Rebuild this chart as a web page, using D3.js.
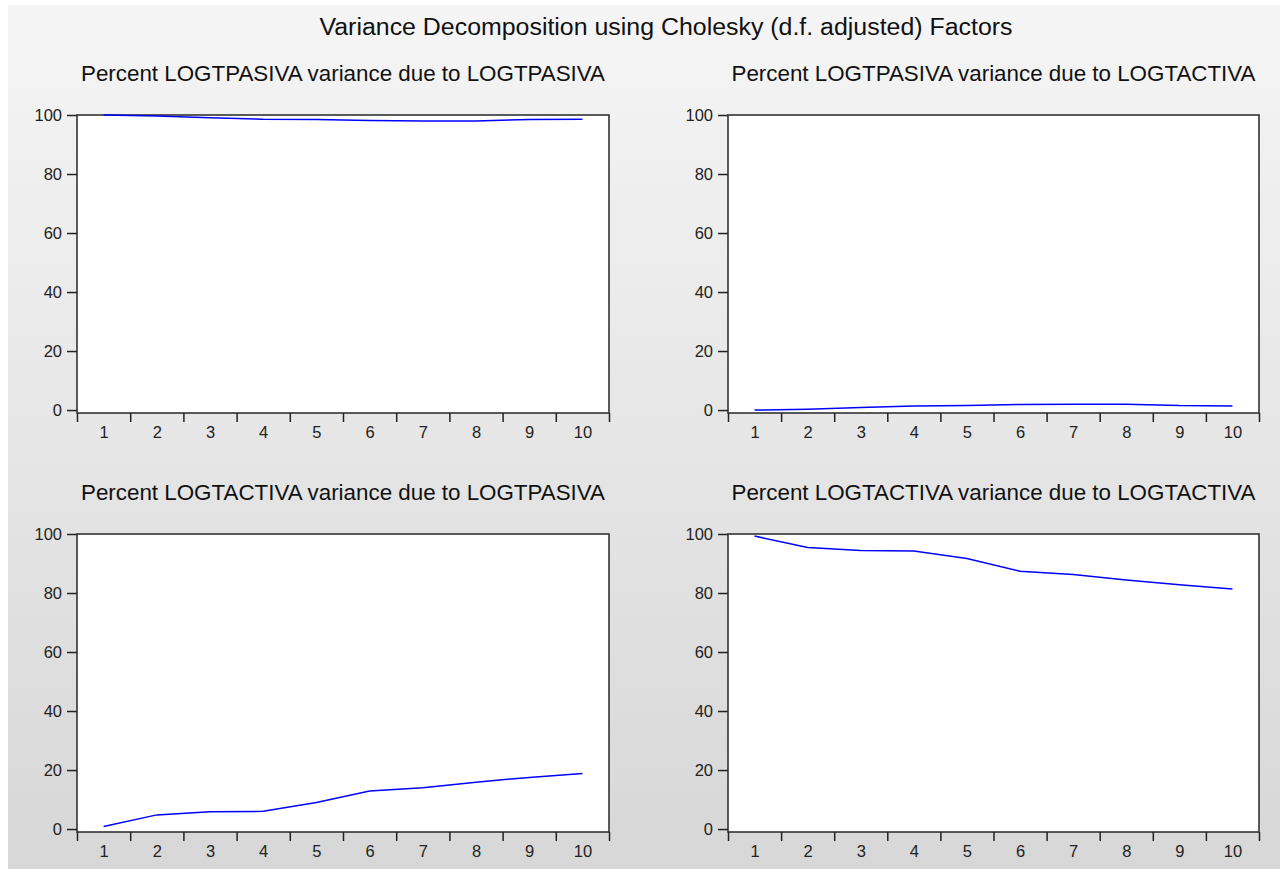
<!DOCTYPE html>
<html>
<head>
<meta charset="utf-8">
<script src="https://cdn.jsdelivr.net/npm/d3@7"></script>
<style>
  body { margin: 0; background: #fff; }
  svg { display: block; font-family: "Liberation Sans", Arial, sans-serif; }
</style>
</head>
<body>
<svg width="1283" height="869"></svg>
<script>
var periods = [1, 2, 3, 4, 5, 6, 7, 8, 9, 10];
var yTicks = [0, 20, 40, 60, 80, 100];

var pasivaByPasiva = [100, 99.7, 99.1, 98.6, 98.5, 98.1, 98.0, 98.0, 98.5, 98.6];
var pasivaByActiva = [0, 0.3, 0.9, 1.4, 1.5, 1.9, 2.0, 2.0, 1.5, 1.4];
var activaByPasiva = [0.9, 4.8, 5.9, 6.0, 9.0, 12.9, 14.0, 15.9, 17.5, 18.8];
var activaByActiva = [99.3, 95.4, 94.4, 94.2, 91.7, 87.4, 86.3, 84.4, 82.8, 81.4];

var mainTitle = 'Variance Decomposition using Cholesky (d.f. adjusted) Factors';
var panelTitles = [
  'Percent LOGTPASIVA variance due to LOGTPASIVA',
  'Percent LOGTPASIVA variance due to LOGTACTIVA',
  'Percent LOGTACTIVA variance due to LOGTPASIVA',
  'Percent LOGTACTIVA variance due to LOGTACTIVA'
];
var panelValues = [pasivaByPasiva, pasivaByActiva, activaByPasiva, activaByActiva];

var svg = d3.select('svg');

var defs = svg.append('defs');
var grad = defs.append('linearGradient')
  .attr('id', 'bg')
  .attr('x1', 0).attr('y1', 0).attr('x2', 0).attr('y2', 1);
grad.append('stop').attr('offset', '0%').attr('stop-color', '#f5f5f5');
grad.append('stop').attr('offset', '100%').attr('stop-color', '#d7d7d7');

svg.append('rect')
  .attr('x', 8).attr('y', 5)
  .attr('width', 1272).attr('height', 864)
  .attr('fill', 'url(#bg)');

svg.append('text')
  .attr('x', 666).attr('y', 35)
  .attr('text-anchor', 'middle')
  .attr('font-size', 23)
  .attr('textLength', 693)
  .attr('lengthAdjust', 'spacingAndGlyphs')
  .attr('fill', '#111')
  .text(mainTitle);

// frame boxes: [left, right, top, bottom]
var boxes = [
  [77, 609, 115, 413],
  [728, 1259, 115, 413],
  [77, 609, 534, 832],
  [728, 1259, 534, 832]
];

boxes.forEach(function(b, i) {
  var g = svg.append('g');

  var x = d3.scaleLinear().domain([0.5, 10.5]).range([b[0], b[1]]);
  var y = d3.scaleLinear().domain([-1, 100]).range([b[3], b[2]]);

  g.append('text')
    .attr('x', (b[0] + b[1]) / 2).attr('y', b[2] - 34)
    .attr('text-anchor', 'middle')
    .attr('font-size', 22)
    .attr('textLength', 524)
    .attr('lengthAdjust', 'spacingAndGlyphs')
    .attr('fill', '#111')
    .text(panelTitles[i]);

  g.append('rect')
    .attr('x', b[0]).attr('y', b[2])
    .attr('width', b[1] - b[0]).attr('height', b[3] - b[2])
    .attr('fill', '#fff')
    .attr('stroke', '#333')
    .attr('stroke-width', 1.6);

  var yAxis = g.append('g')
    .attr('transform', 'translate(' + b[0] + ',0)')
    .call(d3.axisLeft(y).tickValues(yTicks).tickSize(10).tickPadding(5));

  var xMarks = g.append('g')
    .attr('transform', 'translate(0,' + b[3] + ')')
    .call(d3.axisBottom(x)
      .tickValues(d3.range(0.5, 11, 1))
      .tickSize(9)
      .tickFormat(''));

  var xLabels = g.append('g')
    .attr('transform', 'translate(0,' + b[3] + ')')
    .call(d3.axisBottom(x).tickValues(periods).tickSize(0).tickPadding(13));

  [yAxis, xMarks, xLabels].forEach(function(ax) {
    ax.select('.domain').remove();
    ax.selectAll('line').attr('stroke', '#222').attr('stroke-width', 1.5);
    ax.selectAll('text')
      .attr('font-size', 16.5)
      .attr('fill', '#222')
      .attr('font-family', '"Liberation Sans", Arial, sans-serif');
  });

  var line = d3.line()
    .x(function(d, k) { return x(periods[k]); })
    .y(function(d) { return y(d); });

  g.append('path')
    .datum(panelValues[i])
    .attr('d', line)
    .attr('fill', 'none')
    .attr('stroke', '#0000ff')
    .attr('stroke-width', 1.5);
});
</script>
</body>
</html>
